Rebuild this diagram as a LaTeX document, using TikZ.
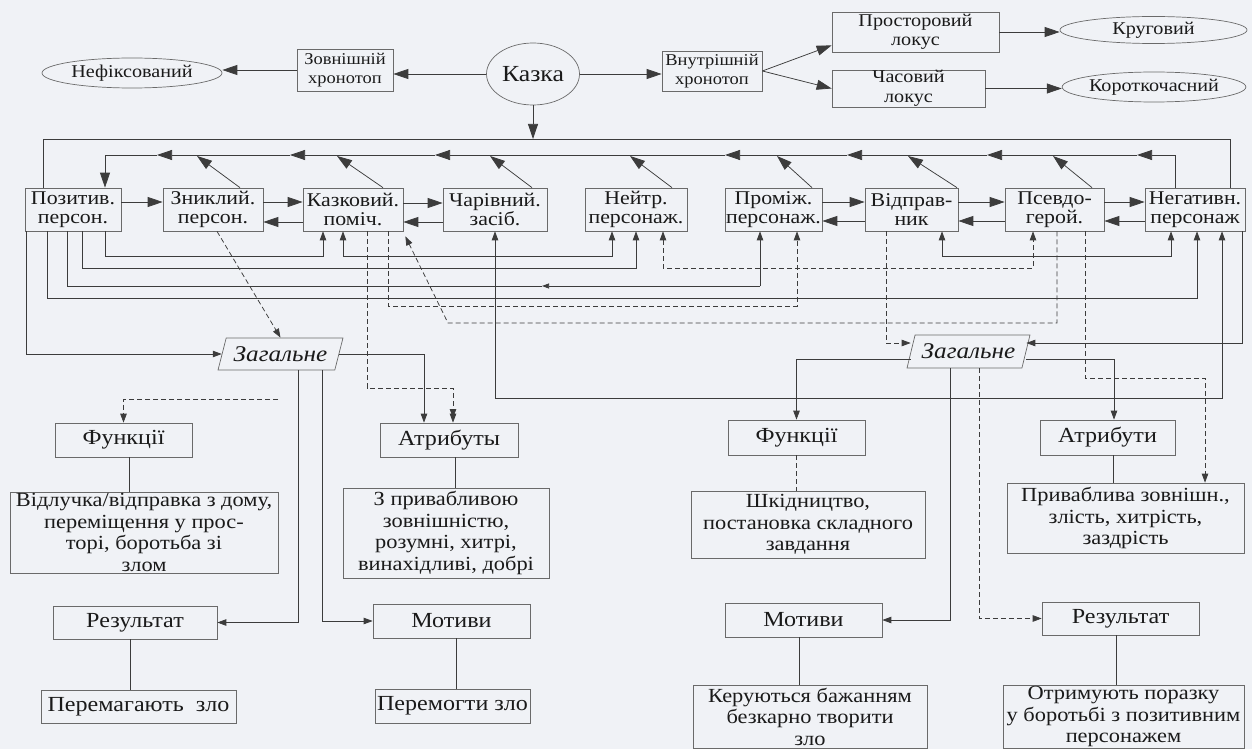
\documentclass[tikz,border=0pt]{standalone}
\usepackage{fontspec}
\setmainfont{Liberation Serif}[FakeStretch=1.12]
\usetikzlibrary{arrows.meta,shapes.geometric}
\definecolor{bgcol}{HTML}{F0F2F6}
\definecolor{lncol}{HTML}{3C3C3C}
\definecolor{bxcol}{HTML}{6A6A6A}
\definecolor{txcol}{HTML}{1A1A1A}
\tikzset{
  tipB/.tip={Triangle[length=15pt,width=10pt]},
  tipS/.tip={Triangle[length=9pt,width=6.5pt]},
  tipT/.tip={Triangle[length=7pt,width=5pt]},
}
\begin{document}
\begin{tikzpicture}[x=1pt,y=-1pt,
  box/.style={draw=bxcol, line width=0.7pt, rectangle, inner sep=0pt, align=center, text=txcol},
  oval/.style={draw=bxcol, line width=0.7pt, ellipse, inner sep=0pt, text=txcol},
  zag/.style={draw=bxcol, line width=0.7pt, trapezium, trapezium left angle=65, trapezium right angle=115, trapezium stretches=true, inner sep=0pt, text=txcol, font=\fontsize{22.5}{24}\selectfont\itshape},
  chr/.style={box, minimum height=43, font=\fontsize{19.5}{19.5}\selectfont},
  low/.style={box, font=\fontsize{20}{21.5}\selectfont},
  head/.style={box, font=\fontsize{21.5}{23}\selectfont},
  topf/.style={font=\fontsize{18}{19.5}\selectfont},
  tops/.style={font=\fontsize{16.5}{19}\selectfont},
  lnk/.style={draw=lncol, line width=0.75pt},
  dsh/.style={lnk, dash pattern=on 5pt off 3pt},
  big/.style={lnk, -tipB},
  sml/.style={lnk, -tipS},
  dsml/.style={dsh, -tipS},
  sml2/.style={lnk, tipS-tipS},
  dsml2/.style={dsh, tipS-tipS},
]
\path[fill=bgcol] (0,0) rectangle (1252,749);
\useasboundingbox (0,0) rectangle (1252,749);

% ---------- top row ----------
\node[oval, topf, minimum width=180, minimum height=30] (nef) at (132,73) {Нефіксований};
\node[box, tops, minimum width=96, minimum height=42] (zovn) at (345,70) {Зовнішній\\хронотоп};
\node[oval, minimum width=93, minimum height=62, font=\fontsize{23}{25}\selectfont] (kazka) at (533,74) {Казка};
\node[box, tops, minimum width=100, minimum height=40] (vnut) at (712,71) {Внутрішній\\хронотоп};
\node[box, topf, minimum width=167, minimum height=40] (prost) at (915.5,32) {Просторовий\\локус};
\node[box, topf, minimum width=153, minimum height=37] (chas) at (908.5,88.5) {Часовий\\локус};
\node[oval, topf, minimum width=187, minimum height=27] (krug) at (1153.5,30) {Круговий};
\node[oval, topf, minimum width=182, minimum height=30] (korot) at (1154,87) {Короткочасний};

\draw[big] (zovn.west) -- (zovn.west -| nef.east);
\draw[big] (kazka.west) -- (kazka.west -| zovn.east);
\draw[big] (kazka.east) -- (kazka.east -| vnut.west);
\draw[big] (vnut.east) -- ([yshift=7pt]prost.south west);
\draw[big] (vnut.east) -- (chas.west);
\draw[big] (prost.east) -- (prost.east -| krug.west);
\draw[big] (chas.east) -- (chas.east -| korot.west);

% ---------- characters ----------
\node[chr, minimum width=96]  (poz)  at (73,209.5)    {Позитив.\\персон.};
\node[chr, minimum width=100] (znyk) at (213,209.5)   {Зниклий.\\персон.};
\node[chr, minimum width=100] (kazk) at (353,209.5)   {Казковий.\\поміч.};
\node[chr, minimum width=104] (char) at (495,209.5)   {Чарівний.\\засіб.};
\node[chr, minimum width=102] (neit) at (636,209.5)   {Нейтр.\\персонаж.};
\node[chr, minimum width=97]  (prom) at (773.5,209.5) {Проміж.\\персонаж.};
\node[chr, minimum width=93]  (vidp) at (911.5,209.5) {Відправ-\\ник};
\node[chr, minimum width=99]  (psev) at (1054.5,209.5){Псевдо-\\герой.};
\node[chr, minimum width=100] (neg)  at (1195,209.5)  {Негативн.\\персонаж};

% Kazka down to the frame line
\draw[big] (kazka.south) -- (kazka.south |- 0,139);
% outer frame line
\draw[lnk] (poz.north -| 43,0) |- (1230,139) -- (neg.north -| 1230,0);
% second line: all towards the positive character
\draw[big] (neg.north -| 1175,0) |- (1137,155);
\draw[big] (1137,155) -- (987,155);
\draw[big] (987,155) -- (847,155);
\draw[big] (847,155) -- (725,155);
\draw[big] (725,155) -- (435,155);
\draw[big] (435,155) -- (290,155);
\draw[big] (290,155) -- (157,155);
\draw[big] (157,155) -| (poz.north -| 105,0);
\draw[big] (znyk.north -| 240,0) -- (197,156);
\draw[big] (kazk.north -| 383,0) -- (337,156);
\draw[big] (char.north -| 532,0) -- (490,156);
\draw[big] (neit.north -| 672,0) -- (630,156);
\draw[big] (prom.north -| 812,0) -- (777,156);
\draw[big] (vidp.north -| 957,0) -- (908,156);
\draw[big] (psev.north -| 1092,0) -- (1053,156);

% horizontal arrows between boxes
\draw[big] (poz.east |- 0,202) -- (znyk.west |- 0,202);
\draw[big] (znyk.east |- 0,202) -- (kazk.west |- 0,202);
\draw[big] (kazk.west |- 0,222) -- (znyk.east |- 0,222);
\draw[big] (kazk.east |- 0,203) -- (char.west |- 0,203);
\draw[big] (char.west |- 0,222) -- (kazk.east |- 0,222);
\draw[big] (prom.east |- 0,202) -- (vidp.west |- 0,202);
\draw[big] (vidp.west |- 0,221) -- (prom.east |- 0,221);
\draw[big] (vidp.east |- 0,202) -- (psev.west |- 0,202);
\draw[big] (psev.west |- 0,221) -- (vidp.east |- 0,221);
\draw[big] (psev.east |- 0,202) -- (neg.west |- 0,202);
\draw[big] (neg.west |- 0,221) -- (psev.east |- 0,221);

% lines under the boxes
\draw[sml]  (poz.south -| 105,0) |- (323,256) -- (kazk.south -| 323,0);
\draw[sml2] (kazk.south -| 343,0) |- (612,256) -- (neit.south -| 612,0);
\draw[sml2] (vidp.south -| 942,0) |- (1171,256) -- (neg.south -| 1171,0);
\draw[sml]  (poz.south -| 82,0) |- (636,268) -- (neit.south -| 636,0);
\draw[dsml2] (neit.south -| 663,0) |- (1033,268) -- (psev.south -| 1033,0);
\draw[lnk]  (poz.south -| 67,0) |- (542,286);
\draw[lnk, -tipT] (760,286) -- (542,286);
\draw[sml]  (760,286) -- (prom.south -| 760,0);
\draw[sml]  (poz.south -| 47,0) |- (1197,298) -- (neg.south -| 1197,0);
\draw[dsml] (kazk.south -| 388,0) |- (797,306) -- (prom.south -| 797,0);
\draw[dsml] (psev.south -| 1057,0) |- (448,323) -- ([xshift=2pt,yshift=-5pt]kazk.south east);
\draw[sml2] (char.south) |- (1222,398) -- (neg.south -| 1222,0);

% ---------- left "Загальне" ----------
\node[zag, minimum width=125, minimum height=32] (zagL) at (280.5,354) {Загальне};
\draw[sml]  (poz.south -| 26,0) |- (zagL.west);
\draw[dsml] (znyk.south -| 217,0) -- (zagL.north);
\draw[dsml] (kazk.south -| 367,0) |- (453,388) -- (453,418);

\node[head, minimum width=137, minimum height=34] (funL) at (123.5,440) {Функції};
\node[head, minimum width=138, minimum height=34] (atrL) at (449,440) {Атрибуты};
\node[low, minimum width=268, minimum height=81] (vidL) at (144,532.5) {Відлучка/відправка з дому,\\переміщення у прос-\\торі, боротьба зі\\злом};
\node[low, minimum width=206, minimum height=90] (zprL) at (446,533) {З привабливою\\зовнішністю,\\розумні, хитрі,\\винахідливі, добрі};
\node[head, minimum width=164, minimum height=33] (rezL) at (135,622.5) {Результат};
\node[head, minimum width=157, minimum height=34] (motL) at (451.5,621) {Мотиви};
\node[head, minimum width=195, minimum height=33] (perL) at (138.5,706.5) {Перемагають\ \ зло};
\node[head, minimum width=155, minimum height=34] (perM) at (452.5,706) {Перемогти зло};

\draw[sml] (zagL.east) -| (atrL.north -| 424,0);
\draw[sml] (453,418) -- (atrL.north -| 453,0);
\coordinate (dfree) at (278,399);
\draw[dsml] (dfree) -| (funL.north);
\draw[sml] (zagL.south -| 298,0) |- (rezL.east);
\draw[sml] (zagL.south -| 322,0) |- (motL.west);
\draw[lnk] (funL.south -| 129,0) -- (vidL.north -| 129,0);
\draw[lnk] (atrL.south -| 455,0) -- (zprL.north -| 455,0);
\draw[lnk] (rezL.south -| 130,0) -- (perL.north -| 130,0);
\draw[lnk] (motL.south -| 456,0) -- (perM.north -| 456,0);

% ---------- right "Загальне" ----------
\node[zag, minimum width=123, minimum height=33] (zagR) at (968.5,351.5) {Загальне};
\draw[dsml] (vidp.south -| 886,0) |- ([yshift=8.5pt]zagR.west);
\draw[sml]  (neg.south -| 1242,0) |- ([yshift=8.5pt]zagR.east);

\node[head, minimum width=137, minimum height=35] (funR) at (796.5,437.5) {Функції};
\node[head, minimum width=135, minimum height=35] (atrR) at (1107.5,437.5) {Атрибути};
\node[low, minimum width=234, minimum height=67] (shkR) at (808,524.5) {Шкідництво,\\постановка складного\\завдання};
\node[low, minimum width=237, minimum height=70] (privR) at (1125.5,518) {Приваблива зовнішн.,\\злість, хитрість,\\заздрість};
\node[head, minimum width=157, minimum height=34] (motR) at (803.5,620) {Мотиви};
\node[head, minimum width=157, minimum height=33] (rezR) at (1120.5,618.5) {Результат};
\node[low, minimum width=234, minimum height=63] (kerR) at (810,716.5) {Керуються бажанням\\безкарно творити\\зло};
\node[low, minimum width=241, minimum height=63] (otrR) at (1123.5,716.5) {Отримують поразку\\у боротьбі з позитивним\\персонажем};

\draw[sml] ([yshift=-8pt]zagR.west) -| (funR.north);
\draw[sml] ([yshift=-8pt]zagR.east) -| (atrR.north -| 1114,0);
\draw[dsml] (psev.south -| 1085,0) |- (1205,378) -- (privR.north -| 1205,0);
\draw[sml] (zagR.south -| 950,0) |- (motR.east);
\draw[dsml] (zagR.south -| 979,0) |- (rezR.west);
\draw[dsh] (funR.south) -- (shkR.north -| funR.south);
\draw[lnk] (atrR.south -| 1113,0) -- (privR.north -| 1113,0);
\draw[lnk] (motR.south -| 799,0) -- (kerR.north -| 799,0);
\draw[lnk] (rezR.south -| 1116,0) -- (otrR.north -| 1116,0);
\end{tikzpicture}
\end{document}
